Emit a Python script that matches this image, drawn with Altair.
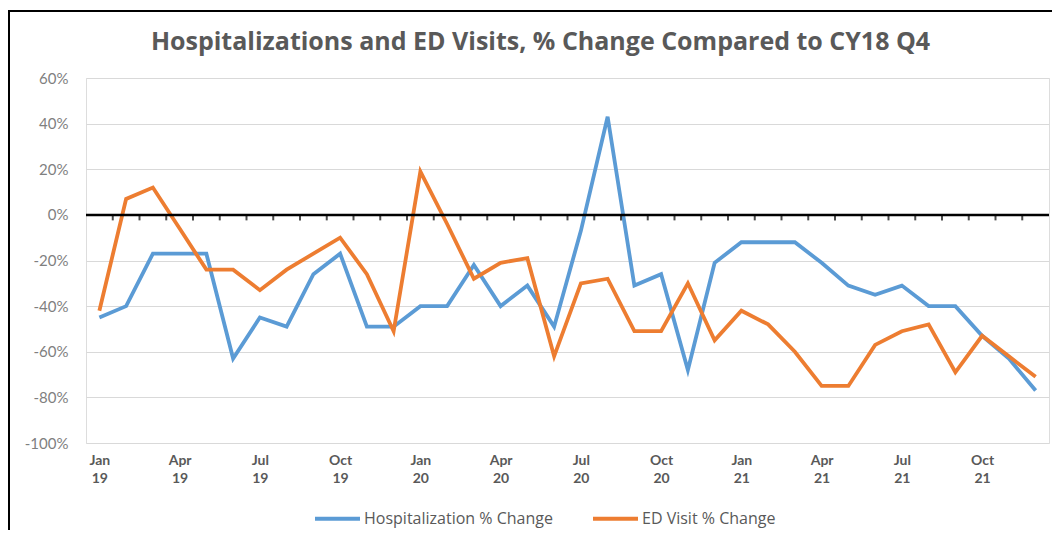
import altair as alt
import pandas as pd

# ---- data -------------------------------------------------------------
months = ["Jan", "Feb", "Mar", "Apr", "May", "Jun",
          "Jul", "Aug", "Sep", "Oct", "Nov", "Dec"]
years = ["19", "20", "21"]
periods = [f"{m} {y}" for y in years for m in months]

hosp = [-45, -40, -17, -17, -17, -63, -45, -49, -26, -17, -49, -49,
        -40, -40, -22, -40, -31, -49, -7, 43, -31, -26, -68, -21,
        -12, -12, -12, -21, -31, -35, -31, -40, -40, -53, -63, -77]
ed = [-42, 7, 12, -6, -24, -24, -33, -24, -17, -10, -26, -51,
      19, -4, -28, -21, -19, -62, -30, -28, -51, -51, -30, -55,
      -42, -48, -60, -75, -75, -57, -51, -48, -69, -53, -62, -71]

series_names = ["Hospitalization % Change", "ED Visit % Change"]
series_colors = ["#5B9BD5", "#ED7D31"]
y_ticks = [-100, -80, -60, -40, -20, 0, 20, 40, 60]

# ---- tables -----------------------------------------------------------
rows = []
for i, p in enumerate(periods):
    rows.append({"idx": i, "period": p, "series": series_names[0], "value": hosp[i]})
    rows.append({"idx": i, "period": p, "series": series_names[1], "value": ed[i]})
df = pd.DataFrame(rows)

tick_df = pd.DataFrame({"pos": [i + 0.5 for i in range(len(periods) - 1)], "zero": 0})

label_values = list(range(0, len(periods), 3))
label_lookup = "[" + ",".join(
    "['%s','%s']" % tuple(periods[i].split(" ")) for i in range(len(periods))
) + "]"

W, H = 963, 365

x_scale = alt.Scale(domain=[-0.5, len(periods) - 0.5], nice=False, zero=False)
y_scale = alt.Scale(domain=[-100, 60], nice=False)

lines = alt.Chart(df).mark_line(strokeWidth=3.8, strokeJoin="miter").encode(
    x=alt.X("idx:Q", scale=x_scale,
            axis=alt.Axis(values=label_values, labelExpr=f"{label_lookup}[datum.value]",
                          title=None, grid=False, ticks=False, domain=False,
                          labelPadding=10, labelFontSize=14, labelFontWeight="bold",
                          labelColor="#595959", labelLineHeight=18, labelFont="Lato")),
    y=alt.Y("value:Q", scale=y_scale,
            axis=alt.Axis(values=y_ticks, labelExpr="datum.value + '%'", title=None,
                          ticks=False, domain=False, gridColor="#d9d9d9", gridWidth=1.2,
                          labelPadding=18, labelFontSize=15, labelColor="#7f7f7f",
                          labelFont="Lato")),
    color=alt.Color("series:N", sort=series_names,
                    scale=alt.Scale(domain=series_names, range=series_colors),
                    legend=alt.Legend(title=None, orient="none", direction="horizontal",
                                      legendX=227, legendY=416,
                                      symbolType="stroke", symbolSize=2025,
                                      symbolStrokeWidth=4, labelOffset=2,
                                      columnPadding=32, labelFontSize=16, labelLimit=400,
                                      labelColor="#595959", labelFont="Open Sans")),
    detail="series:N",
)

zero_line = alt.Chart(pd.DataFrame({"zero": [0]})).mark_rule(
    color="black", strokeWidth=2.5).encode(y=alt.Y("zero:Q", scale=y_scale))

zero_ticks = alt.Chart(tick_df).mark_tick(
    color="black", thickness=2, size=5, orient="vertical", yOffset=3).encode(
    x=alt.X("pos:Q", scale=x_scale), y=alt.Y("zero:Q", scale=y_scale))

frame_top = alt.Chart(pd.DataFrame({"a": [0]})).mark_rule(color="black", strokeWidth=2).encode(
    x=alt.value(-78), x2=alt.value(1060 - 86), y=alt.value(-67))
frame_left = alt.Chart(pd.DataFrame({"a": [0]})).mark_rule(color="black", strokeWidth=2).encode(
    x=alt.value(-77), y=alt.value(-67), y2=alt.value(540 - 78))

chart = alt.layer(frame_top, frame_left, lines, zero_line, zero_ticks).properties(
    width=W, height=H,
    title=alt.Title("Hospitalizations and ED Visits, % Change Compared to CY18 Q4",
                    fontSize=25, font="Open Sans", fontWeight="bold", color="#595959",
                    anchor="middle", frame="group", dx=-27, offset=-45),
    autosize=alt.AutoSizeParams(type="none"),
    padding={"left": 78, "top": 70, "right": 3, "bottom": 87},
).configure_view(stroke="black", strokeWidth=2).configure(background="white")

chart.save("out.html", embed_options={"renderer": "svg", "actions": False})
